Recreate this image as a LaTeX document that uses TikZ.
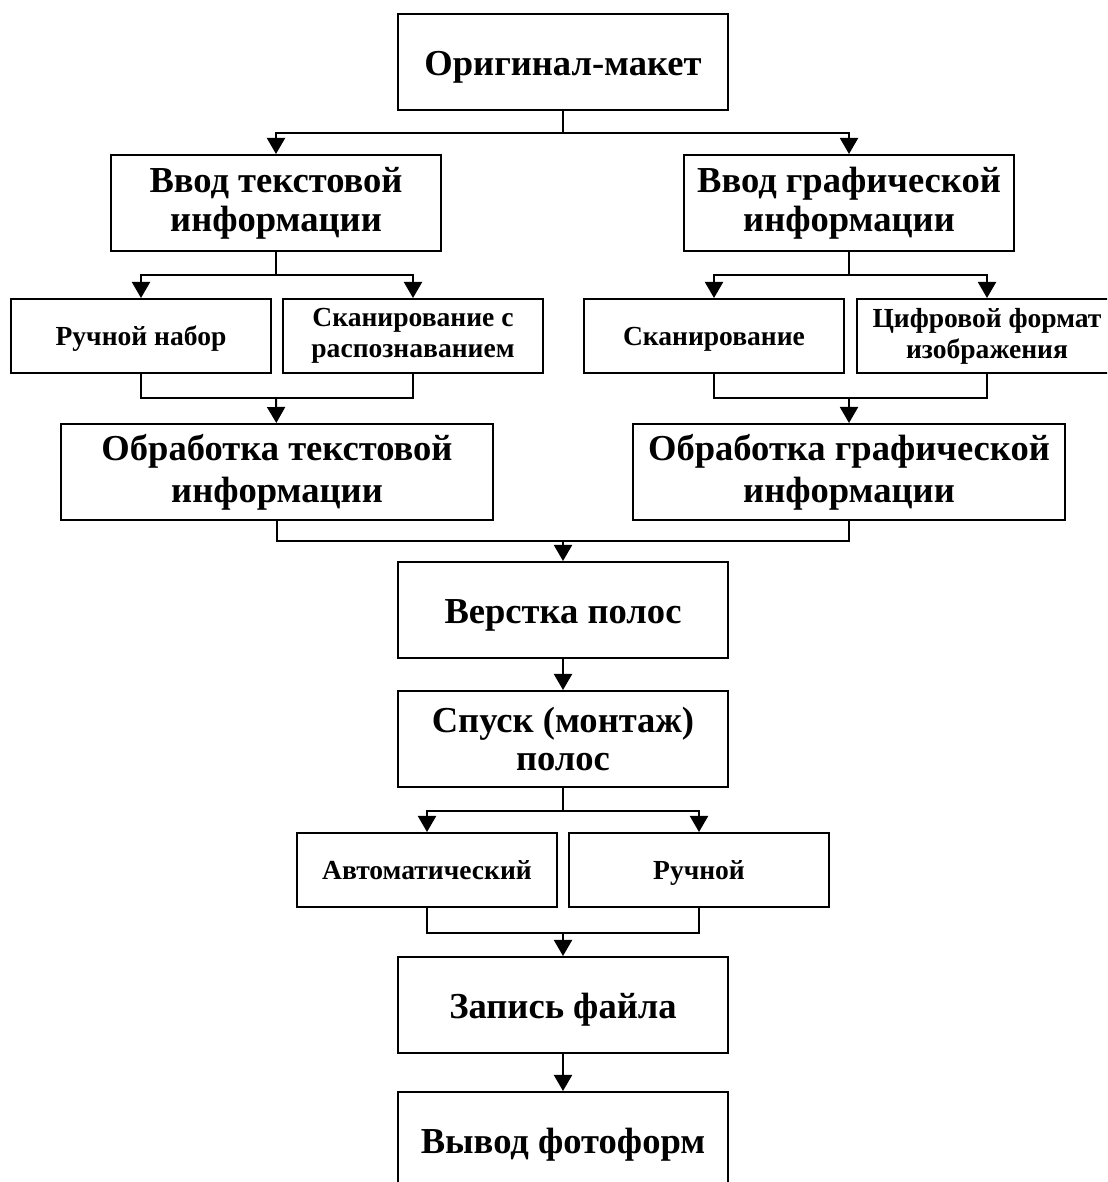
\documentclass[tikz,border=0pt]{standalone}
\usepackage{fontspec}
\setmainfont{Liberation Serif}
\usetikzlibrary{arrows.meta}

\tikzset{
  blk/.style={draw=black, line width=1.42pt, fill=white, align=center, inner sep=2pt,
    font=\bfseries\fontsize{26}{30}\selectfont},
  bigline/.style={text height=23.7pt, text depth=5.2pt},
  smallline/.style={text height=18pt, text depth=3.9pt},
  mainbox/.style={blk, minimum width=8.25cm, minimum height=2.4cm},
  inbox/.style={mainbox, font=\bfseries\fontsize{26}{27.5}\selectfont},
  procbox/.style={blk, minimum width=10.8cm, minimum height=2.4cm},
  subbox/.style={blk, minimum width=6.5cm, minimum height=1.85cm,
    font=\bfseries\fontsize{19.6}{22}\selectfont},
  link/.style={line width=1.42pt},
  arr/.style={link, -{Triangle[length=0.4cm, width=0.45cm]}}
}

\begin{document}
\begin{tikzpicture}[x=0.025cm, y=-0.025cm]
	\useasboundingbox (0,0) rectangle (1107,1182);
	\clip (0,0) rectangle (1107,1182);
	
	% main column
	\node[mainbox, bigline] (orig) at (563, 62) {Оригинал-макет};
	\node[inbox] (vvodT) at (276, 203) {Ввод текстовой\\информации};
	\node[inbox] (vvodG) at (849, 203) {Ввод графической\\информации};
	
	\node[subbox, smallline] (ruch) at (141, 336) {Ручной набор};
	\node[subbox] (skanR) at (413, 336) {Сканирование с\\распознаванием};
	\node[subbox, smallline] (skan) at (714, 336) {Сканирование};
	\node[subbox] (cifr) at (987, 336) {Цифровой формат\\изображения};
	
	\node[procbox] (obrT) at (277, 472) {Обработка текстовой\\информации};
	\node[procbox] (obrG) at (849, 472) {Обработка графической\\информации};
	
	\node[mainbox, bigline] (verst) at (563, 610) {Верстка полос};
	\node[inbox] (spusk) at (563, 739) {Спуск (монтаж)\\полос};
	
	\node[subbox, smallline] (avto) at (427, 870) {Автоматический};
	\node[subbox, smallline] (ruchn) at (699, 870) {Ручной};
	
	\node[mainbox, bigline] (zapis) at (563, 1005) {Запись файла};
	\node[mainbox, bigline] (vyvod) at (563, 1140) {Вывод фотоформ};
	
	% split and merge points
	\coordinate (s1) at (563, 133);
	\coordinate (s2) at (276, 275);
	\coordinate (s3) at (849, 275);
	\coordinate (m1) at (276, 398);
	\coordinate (m2) at (849, 398);
	\coordinate (m3) at (563, 541);
	\coordinate (s4) at (563, 811);
	\coordinate (m4) at (563, 933);
	
	\draw[link] (orig) -- (s1);
	\draw[arr] (s1) -| (vvodT);
	\draw[arr] (s1) -| (vvodG);
	
	\draw[link] (vvodT) -- (s2);
	\draw[arr] (s2) -| (ruch);
	\draw[arr] (s2) -| (skanR);
	\draw[link] (vvodG) -- (s3);
	\draw[arr] (s3) -| (skan);
	\draw[arr] (s3) -| (cifr);
	
	\draw[link] (ruch) |- (m1) -| (skanR);
	\draw[arr] (m1) -- (obrT);
	\draw[link] (skan) |- (m2) -| (cifr);
	\draw[arr] (m2) -- (obrG);
	
	\draw[link] (obrT) |- (m3) -| (obrG);
	\draw[arr] (m3) -- (verst);
	\draw[arr] (verst) -- (spusk);
	
	\draw[link] (spusk) -- (s4);
	\draw[arr] (s4) -| (avto);
	\draw[arr] (s4) -| (ruchn);
	\draw[link] (avto) |- (m4) -| (ruchn);
	\draw[arr] (m4) -- (zapis);
	\draw[arr] (zapis) -- (vyvod);
\end{tikzpicture}
\end{document}
